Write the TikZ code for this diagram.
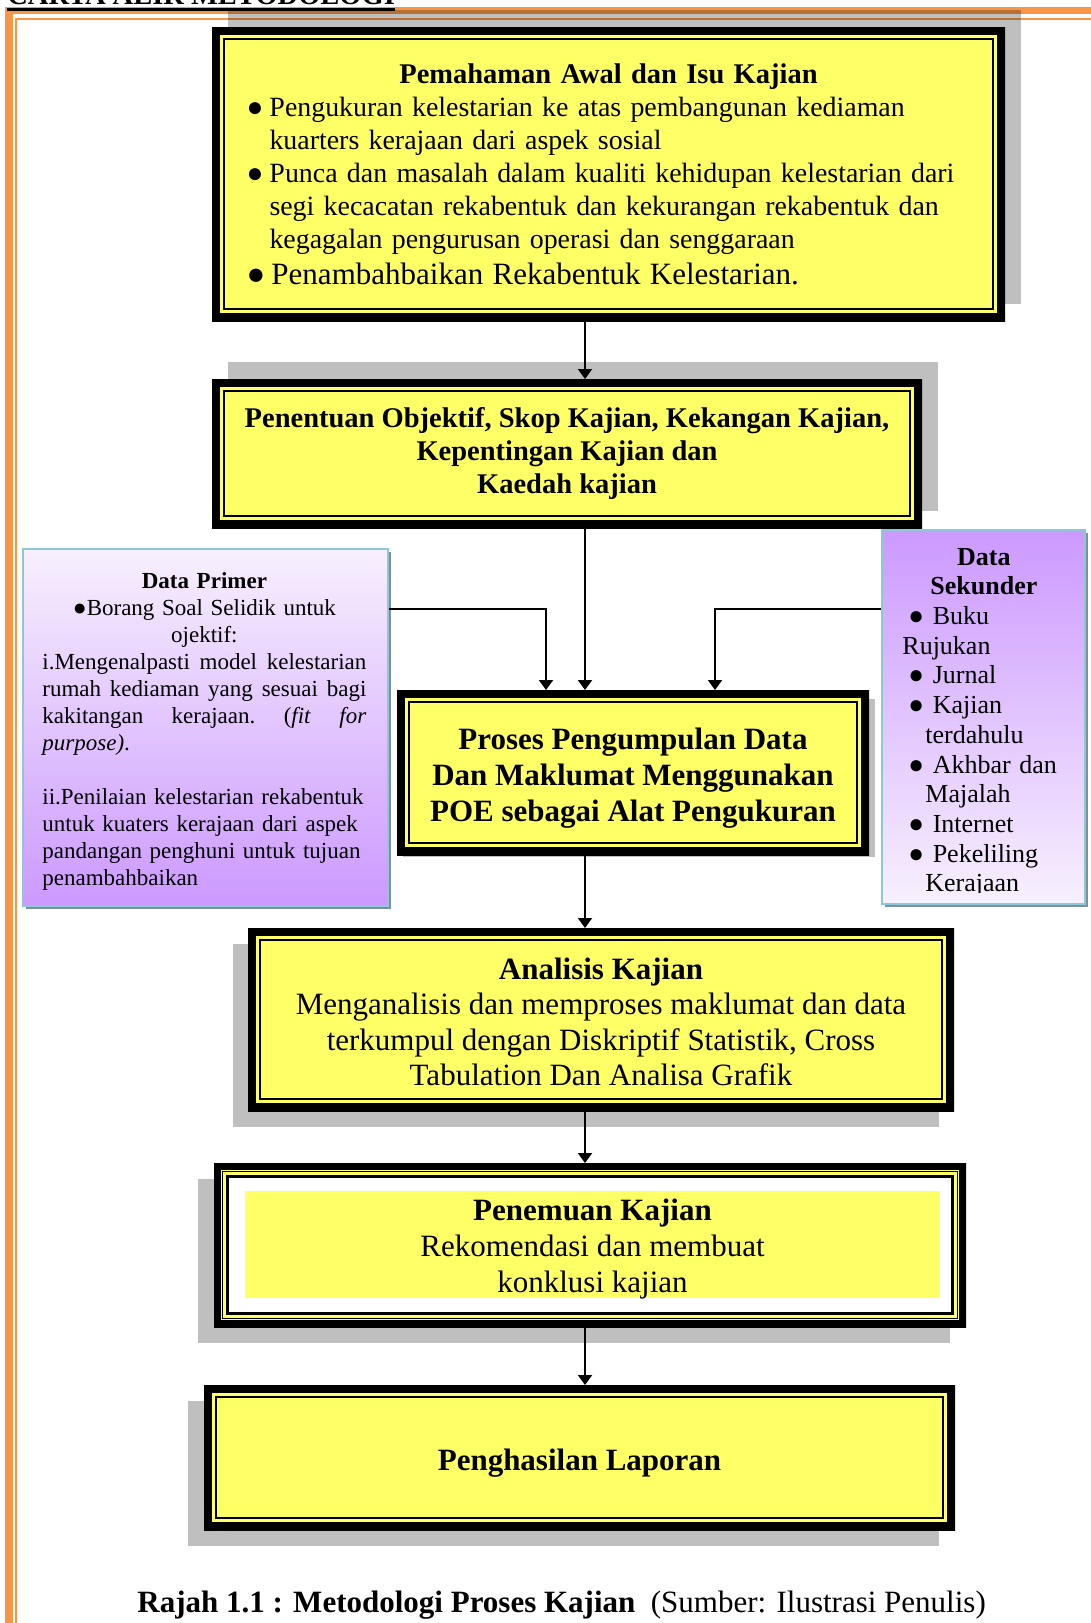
\documentclass[tikz,border=0pt]{standalone}
\usepackage{fontspec}
\setmainfont{Liberation Serif}
\usetikzlibrary{arrows.meta}
\newlength{\pxu}\setlength{\pxu}{0.5pt}
\definecolor{yel}{RGB}{255,255,102}
\definecolor{orng}{RGB}{247,150,70}
\definecolor{pl}{RGB}{247,240,253}
\definecolor{pd}{RGB}{204,153,255}
\definecolor{bbord}{RGB}{140,200,215}
\definecolor{bshad}{RGB}{125,145,155}
\tikzset{
  ybox/.style={fill=yel, inner sep=0pt, outer sep=0pt,
    path picture={
      \draw[line width=8pt] (path picture bounding box.north west) rectangle (path picture bounding box.south east);
      \draw[line width=1pt] ([shift={(6pt,-6pt)}]path picture bounding box.north west) rectangle ([shift={(-6pt,6pt)}]path picture bounding box.south east);
    }},
  fbox/.style={fill=yel, inner sep=0pt, outer sep=0pt,
    path picture={
      \draw[line width=7pt] (path picture bounding box.north west) rectangle (path picture bounding box.south east);
      \draw[line width=0.65pt] ([shift={(4.35pt,-4.35pt)}]path picture bounding box.north west) rectangle ([shift={(-4.35pt,4.35pt)}]path picture bounding box.south east);
      \fill[white] ([shift={(7.5pt,-7.5pt)}]path picture bounding box.north west) rectangle ([shift={(-7.5pt,7.5pt)}]path picture bounding box.south east);
      \draw[line width=1.5pt] ([shift={(6.75pt,-6.75pt)}]path picture bounding box.north west) rectangle ([shift={(-6.75pt,6.75pt)}]path picture bounding box.south east);
    }},
  sidebox/.style={draw=bbord, line width=1pt, inner sep=0pt, shading angle=-45},
  shad/.style={fill=black, opacity=0.25},
  arr/.style={line width=1pt, -{Triangle[width=7pt,length=5pt]}},
  txt/.style={inner sep=0pt, align=center, font=\fontsize{15.5}{18}\selectfont},
}
\begin{document}
\begin{tikzpicture}[x=0.5pt,y=-0.5pt]
\useasboundingbox (0,0) rectangle (1091,1623);
% page border
\fill[orng] (5,7) rectangle (13,1640);
\fill[orng] (5,7) rectangle (1100,13.5);
\fill[orng] (14.5,17.5) rectangle (17,1640);
\fill[orng] (14.5,17.5) rectangle (1100,20);
% title
\node[anchor=base west, inner sep=0pt, font=\fontsize{14.25}{17}\selectfont\bfseries] (ttl) at (7,4) {CARTA ALIR METODOLOGI};
\draw[line width=1.2pt] ([yshift=-2.75pt]ttl.base west) -- ([yshift=-2.75pt]ttl.base east);
% shadows
\fill[shad] (228,10) rectangle (1021,304);
\fill[shad] (228,362) rectangle (938,511);
\fill[shad] (403,699) rectangle (875,857);
\fill[shad] (233,944) rectangle (939,1127);
\fill[shad] (198,1179) rectangle (950,1343);
\fill[shad] (188,1401) rectangle (939,1546);
\fill[bshad] (26,552) rectangle (391,909);
\fill[bshad] (885,533) rectangle (1088,907);
% box 1
\node[ybox, minimum width=793\pxu, minimum height=294\pxu, text width=724\pxu, align=left,
      font=\fontsize{13.95}{16.5}\selectfont] (b1) at (608.5,174) {%
\makebox[724\pxu]{\fontsize{14.25}{16.5}\selectfont\bfseries Pemahaman Awal dan Isu Kajian}\\
\makebox[11.5pt][l]{●}Pengukuran kelestarian ke atas pembangunan kediaman\\
\hspace*{11.5pt}kuarters kerajaan dari aspek sosial\\
\makebox[11.5pt][l]{●}Punca dan masalah dalam kualiti kehidupan kelestarian dari\\
\hspace*{11.5pt}segi kecacatan rekabentuk dan kekurangan rekabentuk dan\\
\hspace*{11.5pt}kegagalan pengurusan operasi dan senggaraan\\[1.5pt]
{\fontsize{15.5}{18}\selectfont\makebox[12.5pt][l]{●}Penambahbaikan Rekabentuk Kelestarian.}};
% box 2
\node[ybox, minimum width=710\pxu, minimum height=149\pxu, align=center,
      font=\fontsize{14.25}{16.5}\selectfont\bfseries] (b2) at (567,453.5) {%
Penentuan Objektif, Skop Kajian, Kekangan Kajian,\\ Kepentingan Kajian dan\\ Kaedah kajian};
% box 3
\node[ybox, minimum width=472\pxu, minimum height=165\pxu] (b3) at (633,772.5) {};
\node[txt, font=\fontsize{15.5}{18}\selectfont\bfseries] (b3t) at (633,778) {%
Proses Pengumpulan Data\\ Dan Maklumat Menggunakan\\ POE sebagai Alat Pengukuran};
% box 4
\node[ybox, minimum width=706\pxu, minimum height=183\pxu] (b4) at (601,1019.5) {};
\node[txt, font=\fontsize{15.5}{17.75}\selectfont] (b4t) at (601,1022) {%
\textbf{Analisis Kajian}\\ Menganalisis dan memproses maklumat dan data\\ terkumpul dengan Diskriptif Statistik, Cross\\ Tabulation Dan Analisa Grafik};
% box 5
\node[fbox, minimum width=752\pxu, minimum height=164\pxu] (b5) at (590,1245) {};
\node[fill=yel, inner sep=0pt, minimum width=695\pxu, minimum height=107\pxu] (b5in) at (592.5,1244.5) {};
\node[txt] (b5t) at (592.5,1249) {%
\textbf{Penemuan Kajian}\\ Rekomendasi dan membuat\\ konklusi kajian};
% box 6
\node[ybox, minimum width=751\pxu, minimum height=145\pxu] (b6) at (579.5,1457.5) {};
\node[txt] (b6t) at (579.5,1463) {\textbf{Penghasilan Laporan}};
% side boxes
\node[sidebox, top color=pl, bottom color=pd, minimum width=365\pxu, minimum height=357\pxu] (prim) at (205.5,727.5) {};
\node[anchor=north west, inner sep=0pt, text width=324\pxu, align=left, font=\fontsize{11.5}{13.5}\selectfont] (primtxt) at (42,569) {%
\noindent\strut\makebox[324\pxu]{\textbf{Data Primer}}\\
\makebox[324\pxu]{●Borang Soal Selidik untuk}\\
\makebox[324\pxu]{ojektif:}\\
\makebox[324\pxu][l]{i.Mengenalpasti\hfill model\hfill kelestarian}\\
\makebox[324\pxu][l]{rumah\hfill kediaman\hfill yang\hfill sesuai\hfill bagi}\\
\makebox[324\pxu][l]{kakitangan\hfill kerajaan.\hfill (\textit{fit}\hfill\textit{for}}\\
\textit{purpose)}.\\[13.5pt]
ii.Penilaian kelestarian rekabentuk\\
untuk kuaters kerajaan dari aspek\\
pandangan penghuni untuk tujuan\\
penambahbaikan};
\node[sidebox, top color=pd, bottom color=pl, minimum width=203\pxu, minimum height=374\pxu] (sek) at (983.5,717) {};
\begin{scope}
\clip (sek.north west) rectangle ([yshift=6.5pt]sek.south east);
\node[anchor=north west, inner sep=0pt, text width=163\pxu, align=left, font=\fontsize{13}{14.85}\selectfont] (sektxt) at (902,544) {%
\noindent\strut\makebox[163\pxu]{\textbf{Data}}\\
\makebox[163\pxu]{\textbf{Sekunder}}\\
\hspace*{3pt}● Buku\\
Rujukan\\
\hspace*{3pt}● Jurnal\\
\hspace*{3pt}● Kajian\\
\hspace*{11.5pt}terdahulu\\
\hspace*{3pt}● Akhbar dan\\
\hspace*{11.5pt}Majalah\\
\hspace*{3pt}● Internet\\
\hspace*{3pt}● Pekeliling\\
\hspace*{11.5pt}Kerajaan};
\end{scope}
% connectors
\coordinate (mx) at (585,0);
\coordinate (jl) at (546,609);
\coordinate (jr) at (715,609);
\draw[arr] (b1.south -| mx) -- (b2.north -| mx);
\draw[arr] (b2.south -| mx) -- (b3.north -| mx);
\draw[arr] (prim.east |- jl) -| (b3.north -| jl);
\draw[arr] (sek.west |- jr) -| (b3.north -| jr);
\draw[arr] (b3.south -| mx) -- (b4.north -| mx);
\draw[arr] (b4.south -| mx) -- (b5.north -| mx);
\draw[arr] (b5.south -| mx) -- (b6.north -| mx);
% caption
\node[anchor=base west, inner sep=0pt, font=\fontsize{15.5}{18}\selectfont] (cap) at (137,1612) {\textbf{Rajah 1.1 : Metodologi Proses Kajian}\ \ (Sumber: Ilustrasi Penulis)};
\end{tikzpicture}
\end{document}
